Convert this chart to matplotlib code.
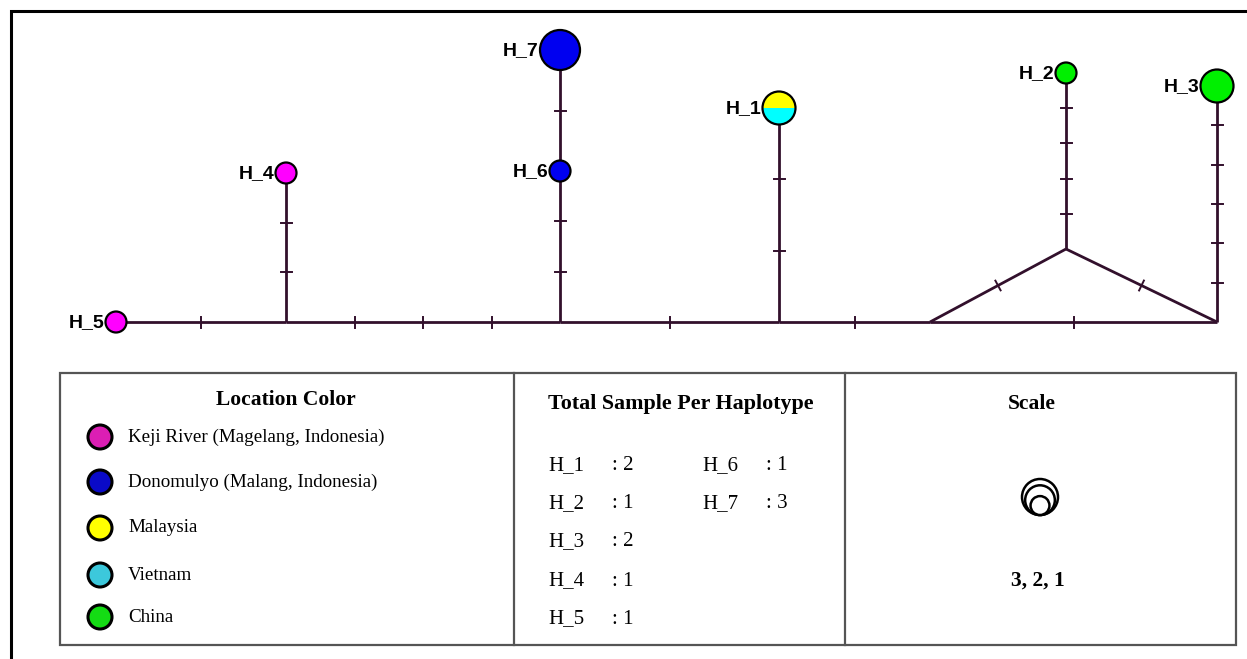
import numpy as np
import matplotlib
matplotlib.use("Agg")
import matplotlib.pyplot as plt
from matplotlib.patches import Circle, Wedge, Rectangle

# haplotypes and their sample counts
haplotypes = ["H_1", "H_2", "H_3", "H_4", "H_5", "H_6", "H_7"]
sample_counts = [2, 1, 2, 1, 1, 1, 3]

locations = ["Keji River (Magelang, Indonesia)", "Donomulyo (Malang, Indonesia)",
             "Malaysia", "Vietnam", "China"]

# samples of each haplotype per location (order as in locations)
hap_locations = {
    "H_1": ["Malaysia", "Vietnam"],
    "H_2": ["China"],
    "H_3": ["China"],
    "H_4": ["Keji River (Magelang, Indonesia)"],
    "H_5": ["Keji River (Magelang, Indonesia)"],
    "H_6": ["Donomulyo (Malang, Indonesia)"],
    "H_7": ["Donomulyo (Malang, Indonesia)"],
}

# network edges: (from, to, number of mutation steps)
edges = [
    ("H_5", "v1", 1),
    ("v1", "H_4", 2),
    ("v1", "v2", 3),
    ("v2", "H_6", 2),
    ("H_6", "H_7", 1),
    ("v2", "v3", 1),
    ("v3", "H_1", 2),
    ("v3", "mv1", 1),
    ("mv1", "mv2", 1),
    ("mv2", "mv3", 1),
    ("mv1", "mv3", 1),
    ("mv2", "H_2", 4),
    ("mv3", "H_3", 5),
]

# drawing layout (pixel canvas)
layout = {
    "H_5": (116, 322), "v1": (286, 322), "H_4": (286, 173),
    "v2": (560, 322), "H_6": (560, 171), "H_7": (560, 50),
    "v3": (779, 322), "H_1": (779, 108),
    "mv1": (930, 322), "mv2": (1066, 249), "mv3": (1217, 322),
    "H_2": (1066, 73), "H_3": (1217, 86),
}
radius_by_count = {1: 10.5, 2: 16.5, 3: 20}

net_colors = {
    "Keji River (Magelang, Indonesia)": "#ff00ff",
    "Donomulyo (Malang, Indonesia)": "#0000f0",
    "Malaysia": "#ffff00",
    "Vietnam": "#00ffff",
    "China": "#00f000",
}
legend_colors = ["#dc1eb4", "#0a0ac8", "#ffff00", "#3cc8dc", "#14dc14"]

line_col = "#32102c"
W, H = 1247, 659

fig = plt.figure(figsize=(W / 100, H / 100), dpi=100)
ax = fig.add_axes([0, 0, 1, 1])
ax.set_xlim(0, W)
ax.set_ylim(H, 0)
ax.axis("off")

# outer frame (top and left only)
ax.plot([11, 11, W], [H, 11, 11], color="black", lw=2.2, solid_joinstyle="miter")

# edges with mutation ticks
for a, b, n in edges:
    (x0, y0), (x1, y1) = layout[a], layout[b]
    ax.plot([x0, x1], [y0, y1], color=line_col, lw=2.0, zorder=1,
            solid_capstyle="butt")
    dx, dy = x1 - x0, y1 - y0
    L = np.hypot(dx, dy)
    px, py = -dy / L * 5.5, dx / L * 5.5
    for k in range(1, n + 1):
        t = k / (n + 1)
        cx, cy = x0 + t * dx, y0 + t * dy
        ax.plot([cx - px, cx + px], [cy - py, cy + py], color=line_col, lw=1.4, zorder=1)

# haplotype nodes
for name, cnt in zip(haplotypes, sample_counts):
    x, y = layout[name]
    r = radius_by_count[cnt]
    locs = hap_locations[name]
    if len(locs) == 1:
        ax.add_patch(Circle((x, y), r, facecolor=net_colors[locs[0]],
                            edgecolor="black", lw=1.6, zorder=3))
    else:
        # y axis inverted: 180-360 is the upper half on screen
        ax.add_patch(Wedge((x, y), r, 180, 360, facecolor=net_colors[locs[0]],
                           edgecolor="none", zorder=3))
        ax.add_patch(Wedge((x, y), r, 0, 180, facecolor=net_colors[locs[1]],
                           edgecolor="none", zorder=3))
        ax.add_patch(Circle((x, y), r, facecolor="none", edgecolor="black",
                            lw=1.6, zorder=4))
    ax.text(x - r - 1, y + 1, name, ha="right", va="center", fontsize=14,
            fontweight="bold", family="Liberation Sans", zorder=5)

# legend box
box_col = "#555555"
ax.add_patch(Rectangle((60, 373), 1176, 272, facecolor="none", edgecolor=box_col, lw=1.6))
for xd in (514, 845):
    ax.plot([xd, xd], [373, 645], color=box_col, lw=1.6)

serif = "Liberation Serif"
ax.text(286, 400, "Location Color", ha="center", va="center", fontsize=15.5,
        fontweight="bold", family=serif)
leg_y = [437, 482, 528, 575, 617]
for loc, col, y in zip(locations, legend_colors, leg_y):
    ax.add_patch(Circle((100, y), 12, facecolor=col, edgecolor="black", lw=2.2))
    ax.text(128, y, loc, ha="left", va="center", fontsize=13.7, family=serif)

ax.text(681, 404, "Total Sample Per Haplotype", ha="center", va="center",
        fontsize=15.8, fontweight="bold", family=serif)
row_y = [466, 504, 542, 581, 619]
for i, (name, cnt) in enumerate(zip(haplotypes, sample_counts)):
    col = i // 5
    y = row_y[i % 5]
    x0 = 548 + col * 154
    ax.text(x0, y, name, ha="left", va="center", fontsize=15, family=serif)
    ax.text(x0 + 64, y, f": {cnt}", ha="left", va="center", fontsize=15, family=serif)

ax.text(1032, 404, "Scale", ha="center", va="center", fontsize=15.5,
        fontweight="bold", family=serif)
scale_counts = [3, 2, 1]
bottom = 515
for cnt in scale_counts:
    r = radius_by_count[cnt] * 0.9
    ax.add_patch(Circle((1040, bottom - r), r, facecolor="white", edgecolor="black", lw=1.8))
ax.text(1038, 581, ", ".join(str(c) for c in scale_counts), ha="center", va="center",
        fontsize=15.5, fontweight="bold", family=serif)

fig.savefig("out.png", dpi=100, facecolor="white")
